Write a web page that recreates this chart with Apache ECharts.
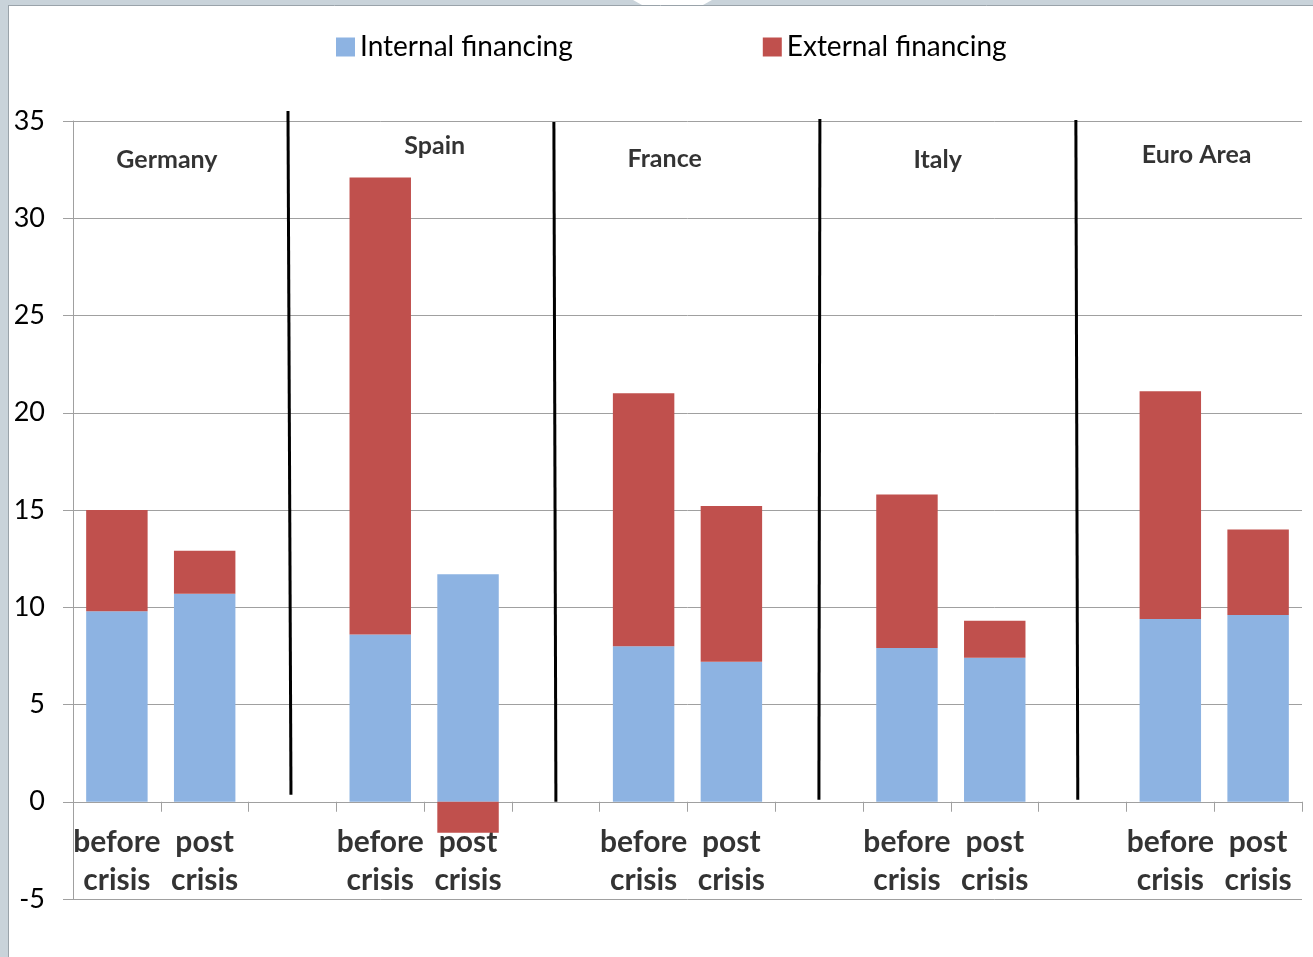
<!DOCTYPE html>
<html>
<head>
<meta charset="utf-8">
<script src="https://cdn.jsdelivr.net/npm/echarts@6/dist/echarts.min.js"></script>
<style>
html,body{margin:0;padding:0;background:#fff;}
#chart{width:1313px;height:957px;}
</style>
</head>
<body>
<div id="chart"></div>
<script>
// ---- data ----
const categories = ['DE before','DE post','gap1','ES before','ES post','gap2','FR before','FR post','gap3','IT before','IT post','gap4','EA before','EA post'];
const tickLabels = ['before\ncrisis','post\ncrisis','','before\ncrisis','post\ncrisis','','before\ncrisis','post\ncrisis','','before\ncrisis','post\ncrisis','','before\ncrisis','post\ncrisis'];
const internalFinancing = [9.8, 10.7, null, 8.6, 11.7, null, 8.0, 7.2, null, 7.9, 7.4, null, 9.4, 9.6];
const externalFinancing = [5.2, 2.2, null, 23.5, -1.6, null, 13.0, 8.0, null, 7.9, 1.9, null, 11.7, 4.4];
const yTicks = {min: -5, max: 35, interval: 5};
// country labels in slot units (0..14) and value units
const countryNames = ['Germany', 'Spain', 'France', 'Italy', 'Euro Area'];
const countryLabelX = [1.07, 4.12, 6.74, 9.85, 12.8];
const countryLabelY = [33.0, 33.7, 33.05, 33.0, 33.25];
// vertical position (value units) of the two-line category labels
const tickLabelY = -3.08;
// separator lines [x1,y1,x2,y2] in slot units / value units
const separators = [
  [2.449, 35.51, 2.483, 0.36],
  [5.478, 34.95, 5.501, 0.0],
  [8.508, 35.1, 8.497, 0.1],
  [11.424, 35.05, 11.446, 0.1]
];

const FONT = 'Lato';
const gridColor = '#a0a0a0';

const chart = echarts.init(document.getElementById('chart'));

const sepSeries = separators.map((s, i) => ({
  type: 'line',
  name: 'sep' + i,
  xAxisIndex: 1,
  yAxisIndex: 0,
  data: [[s[0], s[1]], [s[2], s[3]]],
  showSymbol: false,
  symbol: 'none',
  clip: false,
  silent: true,
  lineStyle: {color: '#000', width: 3},
  z: 5
}));

chart.setOption({
  backgroundColor: '#ffffff',
  animation: false,
  textStyle: {fontFamily: FONT},
  graphic: [
    {type: 'rect', shape: {x: 0, y: 0, width: 8, height: 957}, style: {fill: '#c9d3da'}, z: 100},
    {type: 'rect', shape: {x: 0, y: 0, width: 1313, height: 5}, style: {fill: '#c9d3da'}, z: 100},
    {type: 'polygon', shape: {points: [[633, 0], [712, 0], [703, 5], [642, 5]]}, style: {fill: '#ffffff'}, z: 101},
    {type: 'line', shape: {x1: 8.5, y1: 5, x2: 8.5, y2: 957}, style: {stroke: '#9aa3aa', lineWidth: 1}, z: 102},
    {type: 'line', shape: {x1: 8, y1: 5.5, x2: 1313, y2: 5.5}, style: {stroke: '#9aa3aa', lineWidth: 1}, z: 102}
  ],
  legend: {
    data: ['Internal financing', 'External financing'],
    left: 331,
    top: 28,
    icon: 'rect',
    itemWidth: 19,
    itemHeight: 19,
    itemGap: 190,
    textStyle: {fontFamily: FONT, fontSize: 28, color: '#000'}
  },
  grid: {left: 73, right: 11, top: 121, bottom: 58, containLabel: false, outerBoundsMode: 'none'},
  xAxis: [
    {
      type: 'category',
      data: categories,
      boundaryGap: true,
      axisLine: {show: true, onZero: true, lineStyle: {color: gridColor, width: 1}},
      axisTick: {show: true, length: 10, inside: false, alignWithLabel: false, lineStyle: {color: gridColor}},
      axisLabel: {show: false},
      splitLine: {show: false}
    },
    {
      type: 'value',
      min: 0,
      max: 14,
      show: false,
      splitLine: {show: false}
    }
  ],
  yAxis: {
    type: 'value',
    min: yTicks.min,
    max: yTicks.max,
    interval: yTicks.interval,
    axisLine: {show: true, onZero: false, lineStyle: {color: gridColor}},
    axisTick: {show: true, length: 10, lineStyle: {color: gridColor}},
    axisLabel: {margin: 28, fontFamily: FONT, fontSize: 27, color: '#000'},
    splitLine: {show: true, lineStyle: {color: gridColor, width: 1}}
  },
  series: [
    {
      name: 'Internal financing',
      type: 'bar',
      stack: 'fin',
      barWidth: '70%',
      data: internalFinancing,
      itemStyle: {color: '#8db3e2'}
    },
    {
      name: 'External financing',
      type: 'bar',
      stack: 'fin',
      barWidth: '70%',
      data: externalFinancing,
      itemStyle: {color: '#c0504d'}
    },
    {
      name: 'countries',
      type: 'scatter',
      xAxisIndex: 1,
      yAxisIndex: 0,
      symbolSize: 1,
      itemStyle: {color: 'rgba(0,0,0,0)'},
      silent: true,
      data: countryNames.map((n, i) => ({name: n, value: [countryLabelX[i], countryLabelY[i]]})),
      label: {
        show: true,
        position: 'inside',
        formatter: p => p.name,
        fontFamily: FONT,
        fontWeight: 'bold',
        fontSize: 25,
        color: '#000'
      }
    },
    {
      name: 'tickLabels',
      type: 'scatter',
      xAxisIndex: 1,
      yAxisIndex: 0,
      symbolSize: 1,
      clip: false,
      itemStyle: {color: 'rgba(0,0,0,0)'},
      silent: true,
      data: tickLabels.map((t, i) => ({name: t, value: [i + 0.5, tickLabelY]})).filter(d => d.name !== ''),
      label: {
        show: true,
        position: 'inside',
        formatter: p => p.name,
        fontFamily: FONT,
        fontWeight: 'bold',
        fontSize: 30,
        lineHeight: 38,
        color: '#000'
      },
      z: 1
    },
    ...sepSeries
  ]
});
</script>
</body>
</html>
